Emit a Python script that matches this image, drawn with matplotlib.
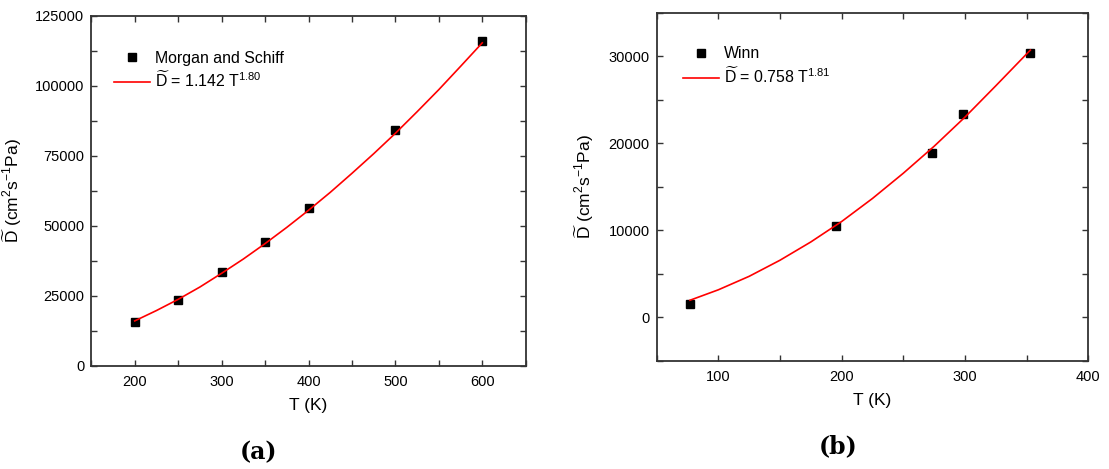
# Diffusion coefficient vs temperature, two panels

import matplotlib
matplotlib.use('Agg')
import matplotlib.pyplot as plt
from matplotlib.ticker import MultipleLocator

plt.rcParams['font.family'] = ['Liberation Sans', 'DejaVu Sans']
plt.rcParams['mathtext.fontset'] = 'custom'
plt.rcParams['mathtext.rm'] = 'Liberation Sans'
plt.rcParams['mathtext.it'] = 'Liberation Sans:italic'

# (a) Morgan and Schiff
t_a = [200, 250, 300, 350, 400, 500, 600]
d_a = [15500, 23500, 33300, 44200, 56200, 84000, 115800]
fit_t_a = [200, 225, 250, 275, 300, 325, 350, 375, 400, 425, 450, 475,
           500, 525, 550, 575, 600]
fit_d_a = [16000, 19700, 23700, 28100, 33000, 38100, 43600, 49400, 55500,
           61900, 68700, 75700, 83000, 90700, 98600, 106900, 115300]

# (b) Winn
t_b = [77, 195, 273, 298, 353]
d_b = [1500, 10450, 18900, 23400, 30400]
fit_t_b = [77, 100, 125, 150, 175, 200, 225, 250, 275, 300, 325, 353]
fit_d_b = [1950, 3150, 4700, 6550, 8650, 11000, 13650, 16550, 19650, 23000, 26600, 30700]

ylabel = r'$\widetilde{\mathrm{D}}$ (cm$^2$s$^{-1}$Pa)'

fig = plt.figure(figsize=(11.09, 4.69), dpi=100)
W, H = 1109, 469
ax1 = fig.add_axes([91.3 / W, (H - 365.7) / H, 434.4 / W, 350 / H])
ax2 = fig.add_axes([656.7 / W, (H - 360.7) / H, 431.6 / W, 348 / H])


def style(ax):
    for s in ax.spines.values():
        s.set_color('#333333')
        s.set_linewidth(1.3)
    ax.tick_params(which='both', direction='in', top=True, right=True,
                   length=4, width=1.0, color='#333333',
                   labelsize=10.5, pad=5)
    ax.tick_params(axis='x', pad=7)


ax1.plot(t_a, d_a, linestyle='none', marker='s', color='black', ms=6,
         label='Morgan and Schiff')
ax1.plot(fit_t_a, fit_d_a, color='red', lw=1.2,
         label=r'$\widetilde{\mathrm{D}}$ = 1.142 T$^{1.80}$')
ax1.set_xlim(150, 650)
ax1.set_ylim(0, 125000)
ax1.xaxis.set_major_locator(MultipleLocator(100))
ax1.xaxis.set_minor_locator(MultipleLocator(50))
ax1.yaxis.set_major_locator(MultipleLocator(25000))
ax1.yaxis.set_minor_locator(MultipleLocator(12500))
style(ax1)
ax1.set_xlabel('T (K)', fontsize=12.5, labelpad=6)
ax1.set_ylabel(ylabel, fontsize=12.5)
ax1.yaxis.set_label_coords(-0.155, 0.5)
ax1.legend(loc='upper left', bbox_to_anchor=(0.052, 0.90), frameon=False,
           borderaxespad=0, borderpad=0, handlelength=2.3, handletextpad=0.3,
           labelspacing=0.3, fontsize=11.4)

ax2.plot(t_b, d_b, linestyle='none', marker='s', color='black', ms=6,
         label='Winn')
ax2.plot(fit_t_b, fit_d_b, color='red', lw=1.2,
         label=r'$\widetilde{\mathrm{D}}$ = 0.758 T$^{1.81}$')
ax2.set_xlim(50, 400)
ax2.set_ylim(-5000, 35000)
ax2.xaxis.set_major_locator(MultipleLocator(100))
ax2.xaxis.set_minor_locator(MultipleLocator(50))
ax2.yaxis.set_major_locator(MultipleLocator(10000))
ax2.yaxis.set_minor_locator(MultipleLocator(5000))
style(ax2)
ax2.set_xlabel('T (K)', fontsize=12.5, labelpad=6)
ax2.set_ylabel(ylabel, fontsize=12.5)
ax2.yaxis.set_label_coords(-0.141, 0.5)
ax2.legend(loc='upper left', bbox_to_anchor=(0.061, 0.903), frameon=False,
           borderaxespad=0, borderpad=0, handlelength=2.3, handletextpad=0.3,
           labelspacing=0.3, fontsize=11.4)

fig.text(259 / W, 1 - 452 / H, '(a)', ha='center', va='center',
         fontsize=17, fontweight='bold', family='DejaVu Serif')
fig.text(838 / W, 1 - 446 / H, '(b)', ha='center', va='center',
         fontsize=17, fontweight='bold', family='DejaVu Serif')

plt.savefig('out.png', dpi=100)
